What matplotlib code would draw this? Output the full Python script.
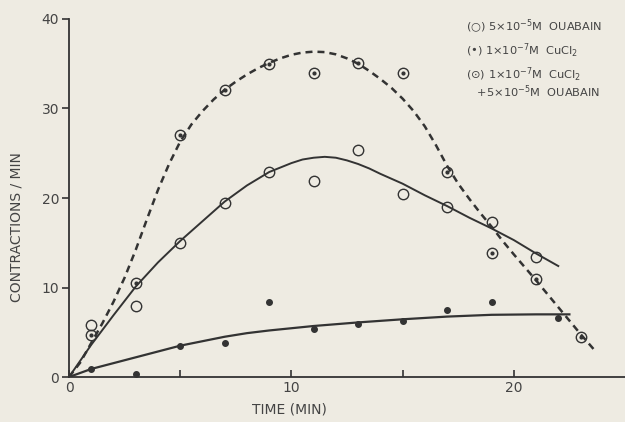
import matplotlib
matplotlib.use("Agg")
import matplotlib.pyplot as plt

# ---- data ----
time_pts = [1, 3, 5, 7, 9, 11, 13, 15, 17, 19, 21]
ouabain = [5.8, 7.9, 15.0, 19.4, 22.9, 21.9, 25.4, 20.4, 19.0, 17.3, 13.4]

cucl2_t = [1, 3, 5, 7, 9, 11, 13, 15, 17, 19, 22]
cucl2 = [0.9, 0.3, 3.5, 3.8, 8.4, 5.4, 5.9, 6.3, 7.5, 8.4, 6.6]

both_t = [1, 3, 5, 7, 9, 11, 13, 15, 17, 19, 21, 23]
both = [4.7, 10.5, 27.0, 32.1, 35.0, 34.0, 35.1, 34.0, 22.9, 13.9, 11.0, 4.5]

# fitted curves
ouab_curve_t = [0, 1, 2, 3, 4, 5, 6, 7, 8, 9, 10, 10.5, 11, 11.5, 12, 12.5, 13, 13.5, 14, 15, 16,
                17, 18, 19, 20, 21, 22]
ouab_curve = [0, 3.6, 6.9, 10.1, 12.8, 15.2, 17.4, 19.6, 21.4, 22.9, 23.9, 24.3, 24.5, 24.6, 24.5,
              24.2, 23.8, 23.3, 22.7, 21.6, 20.3, 19.1, 17.8, 16.6, 15.3, 13.8, 12.4]

cu_curve_t = [0, 1, 2, 3, 4, 5, 6, 7, 8, 9, 10, 11, 13, 15, 17, 19, 21, 22.5]
cu_curve = [0, 0.9, 1.55, 2.2, 2.85, 3.5, 4.0, 4.5, 4.9, 5.2, 5.45, 5.7, 6.1, 6.45, 6.75, 6.95,
            7.0, 7.0]

both_curve_t = [0, 0.5, 1, 1.5, 2, 2.5, 3, 3.5, 4, 4.5, 5, 5.5, 6, 6.5, 7, 7.5, 8, 8.5, 9, 9.5,
                10, 10.5, 11, 11.5, 12, 12.5, 13, 13.5, 14, 14.5, 15, 15.5, 16, 16.5, 17, 17.5,
                18, 18.5, 19, 19.5, 20, 21, 22, 23, 23.7]
both_curve = [0, 1.6, 3.8, 6.0, 8.4, 11.1, 14.2, 17.6, 20.9, 23.8, 26.3, 28.2, 29.7, 31.0, 32.1,
              33.0, 33.8, 34.5, 35.1, 35.6, 36.0, 36.25, 36.35, 36.3, 36.05, 35.6, 35.0, 34.2,
              33.3, 32.3, 31.1, 29.7, 28.0, 25.9, 23.6, 21.6, 19.9, 18.3, 16.8, 15.2, 13.7, 10.8,
              7.8, 4.8, 2.8]

x_ticks = [0, 5, 10, 15, 20]
x_ticklabels = ["0", "", "10", "", "20"]
y_ticks = [0, 10, 20, 30, 40]

legend_lines = [
    r"(○) 5$\times$10$^{-5}$M  OUABAIN",
    r"(•) 1$\times$10$^{-7}$M  CuCl$_2$",
    r"(⊙) 1$\times$10$^{-7}$M  CuCl$_2$",
    r"   +5$\times$10$^{-5}$M  OUABAIN",
]

ink = "#333333"
txt = "#444444"
bg = "#eeebe2"

fig = plt.figure(figsize=(6.25, 4.22), dpi=100, facecolor=bg)
ax = fig.add_axes([0.1104, 0.1066, 0.8896, 0.8484], facecolor=bg)

ax.plot(both_curve_t, both_curve, color=ink, lw=1.8, linestyle=(0, (2.8, 2.0)))
ax.plot(ouab_curve_t, ouab_curve, color=ink, lw=1.4)
ax.plot(cu_curve_t, cu_curve, color=ink, lw=1.6)

ax.plot(time_pts, ouabain, linestyle="none", marker="o", ms=7.5, mfc="none", mec=ink, mew=1.0)
ax.plot(cucl2_t, cucl2, linestyle="none", marker="o", ms=4.0, mfc=ink, mec=ink)
ax.plot(both_t, both, linestyle="none", marker="o", ms=7.5, mfc="none", mec=ink, mew=1.0)
ax.plot(both_t, both, linestyle="none", marker="o", ms=2.0, mfc=ink, mec=ink)

ax.set_xlim(0, 25)
ax.set_ylim(0, 40)
ax.spines["top"].set_visible(False)
ax.spines["right"].set_visible(False)
for s in ("left", "bottom"):
    ax.spines[s].set_color(ink)
    ax.spines[s].set_linewidth(1.3)

ax.set_xticks(x_ticks)
ax.set_xticklabels(x_ticklabels)
ax.set_yticks(y_ticks)
ax.tick_params(axis="x", direction="in", length=5, width=1.2, color=ink, labelcolor=txt,
               labelsize=10, pad=3)
ax.tick_params(axis="y", direction="out", length=5, width=1.2, color=ink, labelcolor=txt,
               labelsize=10, pad=2)

ax.set_xlabel("TIME (MIN)", fontsize=10, color=txt)
ax.xaxis.set_label_coords(9.9 / 25, -0.07)
ax.set_ylabel("CONTRACTIONS / MIN", fontsize=10, color=txt)
ax.yaxis.set_label_coords(-0.082, 0.42)

y0 = 0.958
for i, line in enumerate(legend_lines):
    dy = [0, 0.057, 0.113, 0.155][i]
    fig.text(0.745, y0 - dy, line, fontsize=8.2, color=txt, va="top", ha="left",
             family=["DejaVu Sans"])

fig.savefig("out.png", dpi=100, facecolor=bg)
